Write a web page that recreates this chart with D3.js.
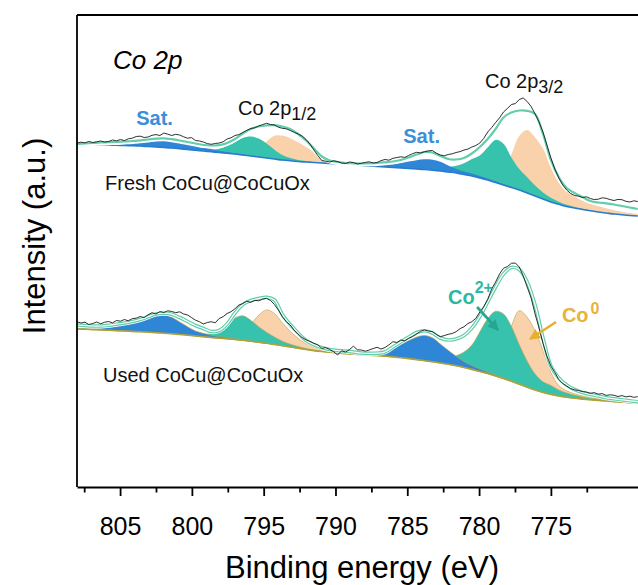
<!DOCTYPE html>
<html><head><meta charset="utf-8">
<script src="https://cdn.jsdelivr.net/npm/d3@7"></script>
<style>
html,body{margin:0;padding:0;background:#fff;}
svg{display:block;font-family:"Liberation Sans",Arial,Helvetica,sans-serif;}
</style>
</head><body>
<svg id="chart" width="638" height="585"></svg>
<script>
// ---------- DATA ----------
const fitStep = 0.55;   // eV between fitted-curve samples
const rawStep = 0.275;  // eV between measured points
const gridEnergy = d3.range(72).map(i => 808 - i * fitStep);
const rawEnergy  = d3.range(143).map(i => 808 - i * rawStep);
const majorTicks = [805, 800, 795, 790, 785, 780, 775];
const minorTicks = [807.5, 802.5, 797.5, 792.5, 787.5, 782.5, 777.5, 772.5];

// ---- Fresh CoCu@CoCuOx (upper trace, offset) ----
const freshBackground = [356,355.8,355.5,355.3,355,354.8,354.5,354.3,354,353.5,353,352.5,352,351.3,350.5,349.8,349,348.3,347.5,346.8,346,345,344,343,342,341,340,339.2,338.5,338,337.5,337,336.5,336,335.5,335,334.5,334,333.5,333,332.5,332,331.5,331,330.5,329.8,329,328,327,325.5,324,322,320,317.5,315,312.5,310,307,304,301,298,295.7,293.5,292,290.5,289.2,288,287,286,285.2,284.5,284];
const freshEnvelope = [356,356.5,357,357.5,357.8,358,358.5,359,359.7,360.5,361.4,361.7,360.8,359.5,358,356.5,355,354.5,354.8,357,361,366.5,371,373.5,374.5,374.8,373.5,371,366,359.5,351.5,343.5,339.5,338,337,336.7,336.5,336.7,337,337.7,338.5,340,342.5,345.5,348,347.5,344,341,340.5,342,346.5,353,361,371,382.5,387.5,389.5,389.2,386,366,340,323,312,307,303,299,297.5,296.7,295.5,294,292.5,291];
const freshRaw = [357,357.8,357.2,358.5,357.5,358.2,359,358,358.5,360,359.2,360.5,359.4,361.2,361.8,363.5,363.8,362.5,363,364.7,365.4,364.5,367,365.8,364.5,365.7,365,363.2,361.8,362.4,359.5,359,358,356.4,355.7,356.5,357,358.2,361,362.2,364.5,365.4,367.5,369.7,371.5,372.2,374,375.4,376.7,375.5,375,372.8,371.7,371.2,369.5,367.6,366,364,360.5,355.8,350,344.4,339.5,338.8,338,339.2,338.5,337,336.5,338,337.5,336,336.7,337.6,338.2,337,337.5,339.4,340.5,339.8,341.7,342.5,343.2,342.6,344.5,346.4,347.7,347,348.3,349.2,349.5,346.8,345,344.2,345.5,346.2,347.5,348.4,350,350.9,353,354.5,357,361.6,368,372.4,377.5,382.2,388,391.5,395.5,396.4,400.5,402,398.5,393.5,386,378,368,355,342,331,322,315,310,306.5,304.5,303.8,302.5,303.2,301.5,300.4,300.8,302.2,301.7,300.4,299.5,300.6,300.3,298.7,298,299.2,298.5];
// fitted components: start energy (eV) and intensity above background at each fit sample
const freshSat12  = { from: 808.00, h: [1,1.5,2,2.5,3.2,4,4.8,5.6,6.4,7.2,7.8,8,7.6,6.8,5.8,4.6,3.5,2.6,1.8,1.2,0.8,0.5,0.3,0.1,0] };
const freshCo2p12 = { from: 799.75, h: [0,0.5,1.5,3.7,7.4,12.3,17,19.4,18.4,14.4,9.3,5,2.8,1.5,1,0.6,0.4,0.2,0] };
const freshCo0p12 = { from: 797.00, h: [0,0.9,3.3,8.7,16.6,23.3,24.4,22.6,19.2,14.9,10.6,6,3.5,1.8,0.8,0.4,0] };
const freshSat32  = { from: 789.85, h: [0,0.3,0.6,1,1.5,2.2,3,4,5.3,7,8.8,10.2,10.5,9.3,6.5,4,3,2.4,2,1.6,1.2,0.8,0.5,0.2,0] };
const freshCo2p32 = { from: 784.35, h: [0.7,1.1,1.7,2.8,4.8,7.2,11.3,17,22.6,32.6,42.6,41.3,30,20.9,15.7,10.4,6.5,4.3,2.6,1.7,1.1,0.7,0.4,0.2,0] };
const freshCo0p32 = { from: 779.95, h: [0.5,2,5,14,33,54,63,58.6,50.4,36.5,22,15.5,12,8.8,7,5.7,4.7,3.8,3.1,2.6,2.2] };

// ---- Used CoCu@CoCuOx (lower trace) ----
const usedBackground = [171,170.7,170.4,170,169.7,169.3,169,168.6,168.2,167.8,167.3,166.8,166.2,165.5,164.8,164,163.2,162.5,161.8,161.2,160.5,159.7,158.7,157.7,156.7,155.5,154.3,153,151.7,150.5,149.4,148.5,147.7,147,146.4,145.9,145.4,144.9,144.4,143.8,143.1,142.3,141.4,140.4,139.3,138.2,137,135.7,134.2,132.5,130.6,128.6,126.4,124,121.4,118.7,115.8,112.8,110,107.6,105.6,104,102.7,101.7,100.9,100.2,99.6,99,98.4,97.8,97.2,96.7];
const usedEnvelope = [175,174.5,174,174,174.7,175.8,177,178.5,180.5,183.2,186,186.8,185.8,182.5,178.5,174.5,171.5,168.5,169.5,176,187,195.5,199.5,201.5,202.7,200,185.5,175.5,167,159.5,155.2,152.5,150.5,149.5,149,148,147,146.7,146.8,148,153,158,163,167.5,169.3,167,162,160,161,164.5,172,183.5,198,213,226,232.5,230.5,218,195,162,134,122,115,110.5,107.5,105.5,104,102.2,101.2,100.2,99.2,98.3];
const usedRaw = [178.3,177,177.8,175.5,176.5,178,176.2,177.8,178.5,177.2,179.5,178.8,180.5,179.2,181.4,181.8,183.5,182.4,185.2,187.3,186,188.4,187.5,189.2,188.5,187.3,188.2,186,185,182.4,179.8,178.3,176,177.5,178.3,177.2,181.5,183.3,186.5,188.3,191.2,195,196.4,198.8,197.6,199.7,199.2,200.8,201.7,199.5,195.5,190,183.3,178.3,175,169.8,166,162.5,160.2,158.6,156.7,155.2,151.7,152.4,150.5,148.3,145,149.2,148,150.4,153.8,150.2,150,148.8,150,151.5,152.7,151,152.5,155.2,158.3,157.5,160,159.2,161.7,163.5,166,168.8,170,169,168.3,165.5,163.3,164.4,165.7,166.5,168.3,171.4,173.2,176.5,178.3,181.7,188,193.3,200.5,211,218,226,231.7,233.5,236.7,237,233,224,213,202,186,172,156.7,144,134,127.5,120.5,116.5,114,111.4,110.2,109.5,108.4,108,106.7,107.4,105.8,106.4,104.6,105.2,104.7,103.5,104.4,103.1,103.8,102.7,103.3];
const usedSat12  = { from: 808.00, h: [0.5,0.8,1.2,1.8,2.8,4.3,6.3,8.8,11.8,15,18,18.3,16.5,12.5,8.5,5,3.5,2.2,1.6,1.2,0.8,0.5,0.3,0] };
const usedCo2p12 = { from: 800.30, h: [0,0.5,2,4.5,9,15,21.5,24.5,21,15.5,11,7.5,4.5,2.8,1.7,1,0.6,0.3,0] };
const usedCo0p12 = { from: 798.10, h: [0,0.7,2.7,8.5,17,27,33.4,31,22.8,15.8,10,5.8,3.4,2.2,1.5,1,0.7,0.4,0.2,0] };
const usedSat32  = { from: 789.85, h: [0,0.5,0.9,1.4,2.3,4,6.5,9.7,13.5,18,22.5,25.3,24,19,14,9.5,6,3.8,2.5,1.6,1,0.6,0.3,0] };
const usedCo2p32 = { from: 784.35, h: [0.8,1.3,2,3.3,5.9,10,15.5,24.4,39.5,54.8,64.7,64.7,54.8,39.5,26,16,10.6,9,6,4.3,3,2.2,1.6,1.2,0.9,0.6,0.4,0.2,0.1] };
const usedCo0p32 = { from: 779.95, h: [0.5,3,10,28,55,73.5,70,59,42,22,10.5,6.5,4.4,3.2,2.5,2,1.5,1.1,0.8,0.5,0.3] };

// annotation anchors in data units [binding energy, intensity]
const labelCo2p = [805.49, 431];
const labelP12 = [796.79, 385];
const labelP32 = [779.59, 412];
const labelSat = [[802.6, 375], [784.0, 357]];
const labelFresh = [806.05, 310];
const labelUsed = [806.19, 118];
const labelCo2plus = [782.16, 196];
const arrowCo2plus = [[780.14, 193], [778.68, 170]];
const labelCo0 = [774.23, 178];
const arrowCo0 = [[774.64, 178], [776.45, 161]];

// ---------- CHART ----------
const svg = d3.select('#chart');
const x = d3.scaleLinear().domain([808, 808 - 561 / 14.36]).range([77, 638]);
const y = d3.scaleLinear().domain([13, 485]).range([487, 15]);

const C = {
  blue: '#2f86d7', teal: '#36c2ad', orange: '#f9d1ab', env: '#62cea9',
  freshBase: '#2b7bcd', usedBase: '#ada33c', raw: '#1a1a1a',
  satText: '#3a8edb', co2Text: '#2db8a2', co2Arrow: '#27a58f', co0Text: '#e8b33a', co0Arrow: '#e8ae30'
};

function idx(E) { return Math.round((808 - E) / fitStep); }
function pts(comp) { return comp.h.map((v, i) => [comp.from - i * fitStep, v]); }
function drawSpectrum(bg, env, raw, comps, baseColor, outlined) {
  const g = svg.append('g');
  const area = d3.area().curve(d3.curveCatmullRom)
    .x(d => x(d[0])).y0(d => y(bg[idx(d[0])])).y1(d => y(bg[idx(d[0])] + d[1]));
  comps.forEach(([comp, color]) => {
    g.append('path').attr('d', area(pts(comp))).attr('fill', color)
      .attr('stroke', outlined ? '#b9a650' : 'none').attr('stroke-width', outlined ? 0.8 : 0)
      .attr('stroke-opacity', 0.8);
  });
  const line = d3.line().curve(d3.curveCatmullRom).x((d, i) => x(gridEnergy[i])).y(d => y(d));
  g.append('path').attr('d', line(bg)).attr('fill', 'none').attr('stroke', baseColor).attr('stroke-width', 1.6);
  if (outlined) {
    g.append('path').attr('d', line(env)).attr('fill', 'none').attr('stroke', '#fff').attr('stroke-width', 5);
    g.append('path').attr('d', line(env)).attr('fill', 'none').attr('stroke', C.env).attr('stroke-width', 3.6);
    g.append('path').attr('d', line(env)).attr('fill', 'none').attr('stroke', '#fff').attr('stroke-width', 1.2);
  } else {
    g.append('path').attr('d', line(env)).attr('fill', 'none').attr('stroke', '#fff').attr('stroke-width', 6);
    g.append('path').attr('d', line(env)).attr('fill', 'none').attr('stroke', C.env).attr('stroke-width', 2.2);
  }
  const rline = d3.line().x((d, i) => x(rawEnergy[i])).y(d => y(d));
  g.append('path').attr('d', rline(raw)).attr('fill', 'none').attr('stroke', C.raw).attr('stroke-width', 0.9);
}

const defs = svg.append('defs');
drawSpectrum(freshBackground, freshEnvelope, freshRaw,
  [[freshCo0p12, C.orange], [freshCo2p12, C.teal], [freshSat12, C.blue],
   [freshCo0p32, C.orange], [freshCo2p32, C.teal], [freshSat32, C.blue]], C.freshBase, false);
drawSpectrum(usedBackground, usedEnvelope, usedRaw,
  [[usedCo0p12, C.orange], [usedCo2p12, C.teal], [usedSat12, C.blue],
   [usedCo0p32, C.orange], [usedCo2p32, C.teal], [usedSat32, C.blue]], C.usedBase, true);

// frame
svg.append('line').attr('x1', x(808)).attr('x2', 638).attr('y1', y(485)).attr('y2', y(485))
  .attr('stroke', '#000').attr('stroke-width', 1.8);
svg.append('line').attr('x1', x(808)).attr('x2', x(808)).attr('y1', y(485)).attr('y2', y(13))
  .attr('stroke', '#000').attr('stroke-width', 1.8);

const axis = svg.append('g').attr('transform', `translate(0,${y(13)})`)
  .call(d3.axisBottom(x).tickValues(majorTicks).tickSize(9).tickSizeOuter(0).tickPadding(21).tickFormat(d3.format('d')));
axis.select('.domain').attr('stroke-width', 1.8);
axis.selectAll('.tick line').attr('stroke-width', 1.8);
axis.selectAll('.tick text').attr('font-size', 25).attr('font-family', '"Liberation Sans",Arial,sans-serif').attr('fill', '#000');
const minorAxis = svg.append('g').attr('transform', `translate(0,${y(13)})`)
  .call(d3.axisBottom(x).tickValues(minorTicks).tickSize(5.5).tickSizeOuter(0).tickFormat(''));
minorAxis.select('.domain').remove();
minorAxis.selectAll('.tick line').attr('stroke-width', 1.8);

svg.append('text').attr('x', 362).attr('y', 578).attr('text-anchor', 'middle')
  .attr('font-size', 31).text('Binding energy (eV)');
svg.append('text').attr('transform', 'translate(45,236) rotate(-90)').attr('text-anchor', 'middle')
  .attr('font-size', 31).text('Intensity (a.u.)');

// annotations
svg.append('text').attr('x', x(labelCo2p[0])).attr('y', y(labelCo2p[1]))
  .attr('font-size', 26).attr('font-style', 'italic').text('Co 2p');
function subLabel(pos, main, sub) {
  const t = svg.append('text').attr('x', x(pos[0])).attr('y', y(pos[1])).attr('font-size', 20).attr('fill', '#111');
  t.append('tspan').text(main);
  t.append('tspan').attr('dy', 5).attr('font-size', 18).text(sub);
}
subLabel(labelP12, 'Co 2p', '1/2');
subLabel(labelP32, 'Co 2p', '3/2');
labelSat.forEach(p => svg.append('text').attr('x', x(p[0])).attr('y', y(p[1])).attr('text-anchor', 'middle')
  .attr('font-size', 20).attr('font-weight', 'bold').attr('fill', C.satText).text('Sat.'));
svg.append('text').attr('x', x(labelFresh[0])).attr('y', y(labelFresh[1])).attr('font-size', 20).attr('fill', '#111').text('Fresh CoCu@CoCuOx');
svg.append('text').attr('x', x(labelUsed[0])).attr('y', y(labelUsed[1])).attr('font-size', 20).attr('fill', '#111').text('Used CoCu@CoCuOx');

function marker(id, color) {
  defs.append('marker').attr('id', id).attr('viewBox', '0 0 10 10').attr('refX', 9).attr('refY', 5)
    .attr('markerWidth', 4.2).attr('markerHeight', 4.2).attr('orient', 'auto')
    .append('path').attr('d', 'M0,0L10,5L0,10Z').attr('fill', color);
}
marker('mTeal', C.co2Arrow); marker('mGold', C.co0Arrow);
function arrow(p, color, m) {
  svg.append('line').attr('x1', x(p[0][0])).attr('y1', y(p[0][1]))
    .attr('x2', x(p[1][0])).attr('y2', y(p[1][1]))
    .attr('stroke', color).attr('stroke-width', 2.6).attr('marker-end', `url(#${m})`);
}
arrow(arrowCo2plus, C.co2Arrow, 'mTeal');
arrow(arrowCo0, C.co0Arrow, 'mGold');

const t1 = svg.append('text').attr('x', x(labelCo2plus[0])).attr('y', y(labelCo2plus[1]))
  .attr('font-size', 20).attr('font-weight', 'bold').attr('fill', C.co2Text);
t1.append('tspan').text('Co');
t1.append('tspan').attr('dy', -11).attr('font-size', 16).text('2+');
const t2 = svg.append('text').attr('x', x(labelCo0[0])).attr('y', y(labelCo0[1]))
  .attr('font-size', 20).attr('font-weight', 'bold').attr('fill', C.co0Text);
t2.append('tspan').text('Co');
t2.append('tspan').attr('dy', -8).attr('dx', 2).attr('font-size', 16).text('0');
</script>
</body></html>
